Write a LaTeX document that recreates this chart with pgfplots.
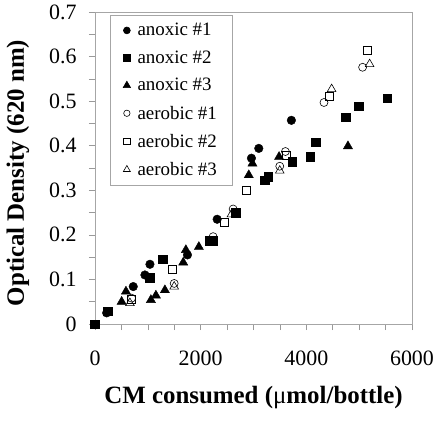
\documentclass[border=0pt]{standalone}
\usepackage{pgfplots}
\pgfplotsset{compat=1.18}
\usepackage{fontspec}
\setmainfont{Liberation Serif}
\begin{document}
\begin{tikzpicture}
\useasboundingbox (-95bp,-105bp) rectangle (344bp,324bp);
\begin{axis}[
  at={(0,0)}, anchor=south west,
  scale only axis, width=317bp, height=312bp,
  xmin=0, xmax=6000, ymin=0, ymax=0.7,
  clip=false,
  axis line style={gray!70, line width=0.8pt},
  every tick/.style={gray!80, line width=0.6pt},
  tick align=outside,
  major tick length=6bp, minor tick length=6bp,
  xtick={0,2000,4000,6000}, minor x tick num=3,
  ytick={0,0.1,0.2,0.3,0.4,0.5,0.6,0.7}, minor y tick num=1,
  yticklabels={0,0.1,0.2,0.3,0.4,0.5,0.6,0.7},
  xticklabels={0,2000,4000,6000},
  xtick pos=bottom, ytick pos=left,
  /pgf/number format/assume math mode=true,
  tick label style={font=\fontsize{22}{24}\selectfont},
  xticklabel shift=17bp,
  yticklabel shift=9bp,
  xlabel={\textbf{CM consumed (}{\fontspec{Liberation Serif}μ}\textbf{mol/bottle)}},
  ylabel={\textbf{Optical Density (620 nm)}},
  label style={font=\fontsize{25}{28}\selectfont},
  xlabel style={at={(axis description cs:0.5,-0.237)}, anchor=center},
  ylabel style={at={(axis description cs:-0.243,0.484)}, anchor=center},
  legend style={at={(0.047,0.99)}, anchor=north west, draw=gray!70, line width=0.6pt,
    font=\fontsize{19}{21}\selectfont, row sep=9.5bp, column sep=5bp,
    inner xsep=13bp, inner ysep=6bp},
  legend image post style={scale=0.8},
  legend cell align=left,
]
\addplot[only marks, mark=*, mark size=4.3bp, black] coordinates {
 (221,0.025) (724,0.084) (945,0.110) (1040,0.134) (1750,0.155) (2312,0.235)
 (2961,0.372) (3100,0.394) (3717,0.457)
};
\addlegendentry{anoxic \#1}
\addplot[only marks, mark=square*, mark size=4.3bp, black] coordinates {
 (0,0) (240,0.029) (1040,0.104) (1279,0.145) (2160,0.187) (2240,0.187)
 (2665,0.250) (3213,0.323) (3276,0.330) (3736,0.364) (4076,0.375) (4177,0.408)
 (4750,0.464) (4990,0.489) (5530,0.507)
};
\addlegendentry{anoxic \#2}
\addplot[only marks, mark=triangle*, mark size=5.3bp, black] coordinates {
 (504,0.050) (586,0.073) (1058,0.054) (1153,0.064) (1323,0.076) (1670,0.138)
 (1720,0.166) (1966,0.173) (2911,0.334) (2980,0.360) (3484,0.375) (4788,0.399)
};
\addlegendentry{anoxic \#3}
\addplot[only marks, mark=o, mark size=4bp, black, mark options={line width=0.6pt}] coordinates {
 (693,0.058) (1499,0.091) (2236,0.196) (2614,0.258) (3497,0.354) (3604,0.387)
 (4334,0.497) (5065,0.576)
};
\addlegendentry{aerobic \#1}
\addplot[only marks, mark=square, mark size=4bp, black, mark options={line width=0.6pt}] coordinates {
 (693,0.055) (1461,0.123) (2444,0.228) (2866,0.299) (3622,0.379) (4441,0.510)
 (5146,0.613)
};
\addlegendentry{aerobic \#2}
\addplot[only marks, mark=triangle, mark size=5bp, black, mark options={line width=0.6pt}] coordinates {
 (661,0.047) (1499,0.084) (2236,0.185) (2583,0.246) (3497,0.344) (4479,0.527)
 (5198,0.583)
};
\addlegendentry{aerobic \#3}
\end{axis}
\end{tikzpicture}
\end{document}
